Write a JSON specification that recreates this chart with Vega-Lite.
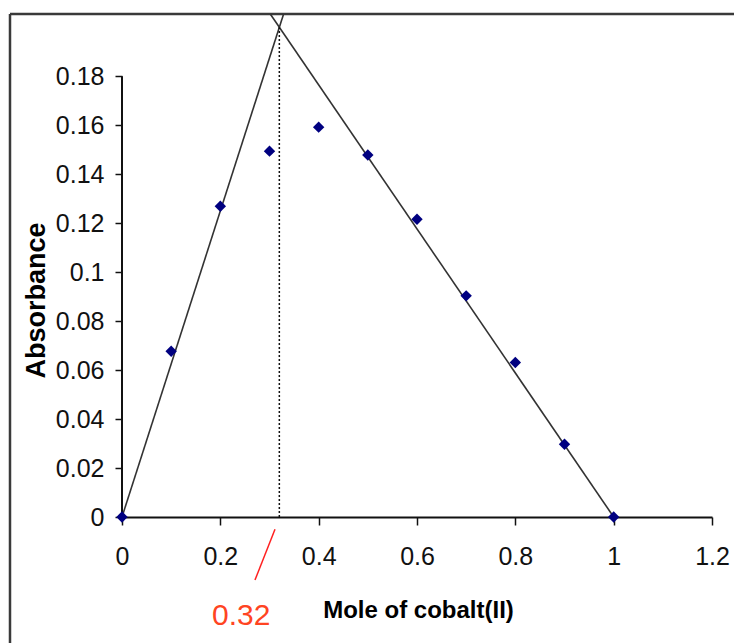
{
  "$schema": "https://vega.github.io/schema/vega-lite/v6.json",
  "width": 590,
  "height": 503,
  "autosize": {"type": "none"},
  "padding": {"left": 122, "top": 14, "right": 22, "bottom": 126},
  "background": "white",
  "config": {"view": {"stroke": null}},
  "datasets": {
    "points": [
      {"mole": 0.0, "abs": 0.0},
      {"mole": 0.1, "abs": 0.0677},
      {"mole": 0.2, "abs": 0.1269},
      {"mole": 0.3, "abs": 0.1494},
      {"mole": 0.4, "abs": 0.1592},
      {"mole": 0.5, "abs": 0.1478},
      {"mole": 0.6, "abs": 0.1216},
      {"mole": 0.7, "abs": 0.0903},
      {"mole": 0.8, "abs": 0.0631},
      {"mole": 0.9, "abs": 0.0297},
      {"mole": 1.0, "abs": 0.0}
    ],
    "fits": [
      {"x1": 0.0, "y1": 0.0, "x2": 0.3287, "y2": 0.2054},
      {"x1": 0.3016, "y1": 0.2054, "x2": 1.0, "y2": 0.0}
    ],
    "frame": [
      {"x1": -0.2278, "y1": 0.2054, "x2": -0.2278, "y2": -0.07},
      {"x1": -0.2278, "y1": 0.2054, "x2": 1.27, "y2": 0.2054}
    ],
    "yaxisline": [{"x1": 0, "y1": 0, "x2": 0, "y2": 0.18}],
    "dotted": [{"x1": 0.32, "y1": 0, "x2": 0.32, "y2": 0.2}],
    "slash": [{"x1": 0.3112, "y1": -0.005, "x2": 0.2705, "y2": -0.0257}],
    "note": [{"x": 0.2425, "y": -0.0403, "label": "0.32"}]
  },
  "layer": [
    {
      "data": {"name": "frame"},
      "mark": {"type": "rule", "color": "#3a3a3a", "strokeWidth": 2.5},
      "encoding": {
        "x": {"field": "x1", "type": "quantitative", "scale": {"domain": [0, 1.2], "nice": false, "zero": false}},
        "y": {"field": "y1", "type": "quantitative", "scale": {"domain": [0, 0.2054], "nice": false, "zero": false}},
        "x2": {"field": "x2"},
        "y2": {"field": "y2"}
      }
    },
    {
      "data": {"name": "yaxisline"},
      "mark": {"type": "rule", "color": "#111111", "strokeWidth": 2},
      "encoding": {
        "x": {"field": "x1", "type": "quantitative"},
        "y": {"field": "y1", "type": "quantitative"},
        "x2": {"field": "x2"},
        "y2": {"field": "y2"}
      }
    },
    {
      "data": {"name": "fits"},
      "mark": {"type": "rule", "color": "#333333", "strokeWidth": 1.6},
      "encoding": {
        "x": {"field": "x1", "type": "quantitative"},
        "y": {"field": "y1", "type": "quantitative"},
        "x2": {"field": "x2"},
        "y2": {"field": "y2"}
      }
    },
    {
      "data": {"name": "dotted"},
      "mark": {"type": "rule", "color": "#111111", "strokeWidth": 1.5, "strokeDash": [2, 2]},
      "encoding": {
        "x": {"field": "x1", "type": "quantitative"},
        "y": {"field": "y1", "type": "quantitative"},
        "x2": {"field": "x2"},
        "y2": {"field": "y2"}
      }
    },
    {
      "data": {"name": "slash"},
      "mark": {"type": "rule", "color": "#ff2020", "strokeWidth": 1.5},
      "encoding": {
        "x": {"field": "x1", "type": "quantitative"},
        "y": {"field": "y1", "type": "quantitative"},
        "x2": {"field": "x2"},
        "y2": {"field": "y2"}
      }
    },
    {
      "data": {"name": "note"},
      "mark": {"type": "text", "color": "#ff4422", "font": "Liberation Sans", "fontSize": 30, "align": "center", "baseline": "middle"},
      "encoding": {
        "x": {"field": "x", "type": "quantitative"},
        "y": {"field": "y", "type": "quantitative"},
        "text": {"field": "label"}
      }
    },
    {
      "data": {"name": "points"},
      "mark": {"type": "point", "shape": "diamond", "filled": true, "color": "#000080", "size": 130, "opacity": 1},
      "encoding": {
        "x": {
          "field": "mole", "type": "quantitative",
          "axis": {
            "values": [0, 0.2, 0.4, 0.6, 0.8, 1, 1.2],
            "format": "~g",
            "grid": false,
            "domain": true, "domainColor": "#111111", "domainWidth": 2,
            "ticks": true, "tickColor": "#111111", "tickWidth": 1.5, "tickSize": 8,
            "labelFont": "Liberation Sans", "labelFontSize": 25, "labelColor": "#111111", "labelPadding": 19,
            "labelFlush": false, "labelOverlap": false,
            "title": "Mole of cobalt(II)",
            "titleFont": "Liberation Sans", "titleFontSize": 24, "titleFontWeight": "bold", "titleColor": "#000000",
            "titleX": 296, "titleY": 93, "titleAlign": "center", "titleBaseline": "middle", "titleAnchor": null
          }
        },
        "y": {
          "field": "abs", "type": "quantitative",
          "axis": {
            "values": [0, 0.02, 0.04, 0.06, 0.08, 0.1, 0.12, 0.14, 0.16, 0.18],
            "format": "~g",
            "grid": false,
            "domain": false,
            "ticks": true, "tickColor": "#111111", "tickWidth": 1.5, "tickSize": 7,
            "labelFont": "Liberation Sans", "labelFontSize": 25, "labelColor": "#111111", "labelPadding": 11,
            "labelFlush": false, "labelOverlap": false,
            "title": "Absorbance",
            "titleFont": "Liberation Sans", "titleFontSize": 27, "titleFontWeight": "bold", "titleColor": "#000000",
            "titleX": -86, "titleY": 286, "titleAngle": -90, "titleAlign": "center", "titleBaseline": "middle", "titleAnchor": null
          }
        }
      }
    }
  ]
}
